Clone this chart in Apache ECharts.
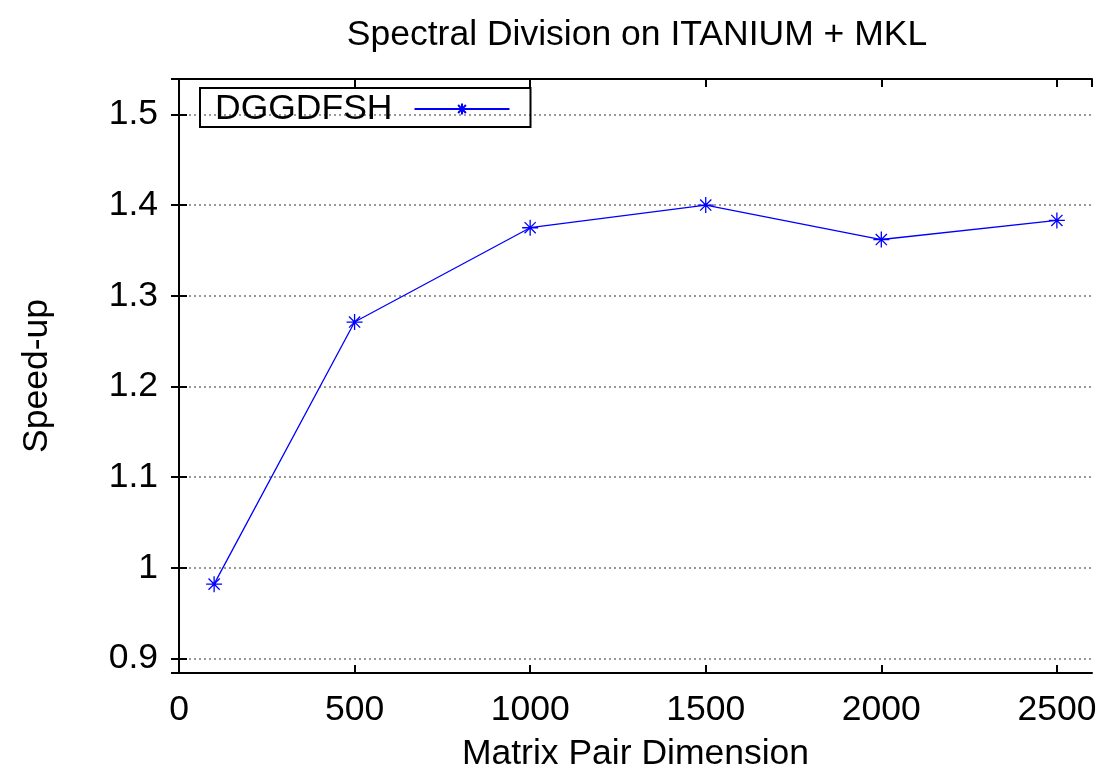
<!DOCTYPE html>
<html>
<head>
<meta charset="utf-8">
<title>Spectral Division on ITANIUM + MKL</title>
<script src="https://cdn.jsdelivr.net/npm/echarts@6/dist/echarts.min.js"></script>
<style>
  html, body { margin: 0; padding: 0; background: #fff; }
  #chart { width: 1107px; height: 780px; }
</style>
</head>
<body>
<div id="chart"></div>
<script>
// matrix pair dimension vs. speed-up
const dims = [100, 500, 1000, 1500, 2000, 2500];
const speedup = [0.982, 1.271, 1.375, 1.400, 1.362, 1.383];
const seriesName = "DGGDFSH";

const FONT = "Liberation Sans, Arial, sans-serif";
const FS = 35.5;
const starPath = "path://M0,-10L0,10M-10,0L10,0M-7,-7L7,7M-7,7L7,-7";

const chart = echarts.init(document.getElementById("chart"));

const frameLine = { show: true, lineStyle: { color: "#000", width: 2 } };
const inTick = { show: true, inside: true, length: 8, lineStyle: { color: "#000", width: 2 } };

const option = {
  animation: false,
  backgroundColor: "#fff",
  title: {
    text: "Spectral Division on ITANIUM + MKL",
    left: 632,
    top: 12,
    textAlign: "center",
    textStyle: { fontFamily: FONT, fontSize: FS, fontWeight: "normal", color: "#000" },
  },
  legend: {
    left: 200,
    top: 88,
    align: "right",
    orient: "vertical",
    padding: [3, 20, 0, 15],
    itemWidth: 95,
    itemHeight: 14,
    borderColor: "#000",
    borderWidth: 2,
    textStyle: {
      fontFamily: FONT, fontSize: FS, color: "#000",
      lineHeight: 30, padding: [0, 17, 0, 0],
    },
    data: [seriesName],
  },
  grid: { left: 179, top: 79, width: 913, height: 594, containLabel: false },
  xAxis: [
    {
      type: "value",
      min: 0,
      max: 2600,
      interval: 500,
      name: "Matrix Pair Dimension",
      nameLocation: "middle",
      nameGap: 63,
      nameTextStyle: { fontFamily: FONT, fontSize: FS, color: "#000" },
      axisLine: frameLine,
      axisTick: inTick,
      axisLabel: {
        fontFamily: FONT, fontSize: FS, color: "#000", margin: 19,
        showMaxLabel: false, formatter: (v) => String(v),
      },
      splitLine: { show: false },
    },
    {
      type: "value",
      position: "top",
      min: 0,
      max: 2600,
      interval: 500,
      axisLine: frameLine,
      axisTick: inTick,
      axisLabel: { show: false },
      splitLine: { show: false },
    },
  ],
  yAxis: [
    {
      type: "value",
      min: 0.884,
      max: 1.539,
      splitNumber: 7,
      name: "Speed-up",
      nameLocation: "middle",
      nameRotate: 90,
      nameGap: 124,
      nameTextStyle: { fontFamily: FONT, fontSize: FS, color: "#000" },
      axisLine: frameLine,
      axisTick: inTick,
      axisLabel: {
        fontFamily: FONT, fontSize: FS, color: "#000", margin: 21,
        showMinLabel: false, showMaxLabel: false,
      },
      splitLine: { show: true, lineStyle: { color: "#777", width: 1.5, type: [2, 3] } },
    },
    {
      type: "value",
      position: "right",
      min: 0.884,
      max: 1.539,
      splitNumber: 7,
      axisLine: frameLine,
      axisTick: inTick,
      axisLabel: { show: false },
      splitLine: { show: false },
    },
  ],
  series: [
    {
      name: seriesName,
      type: "line",
      data: dims.map((d, i) => [d, speedup[i]]),
      symbol: starPath,
      symbolSize: 16,
      showAllSymbol: true,
      lineStyle: { color: "#0000ff", width: 1.3 },
      itemStyle: { color: "#0000ff", borderColor: "#0000ff", borderWidth: 1.3 },
      z: 5,
    },
  ],
};

chart.setOption(option);
</script>
</body>
</html>
